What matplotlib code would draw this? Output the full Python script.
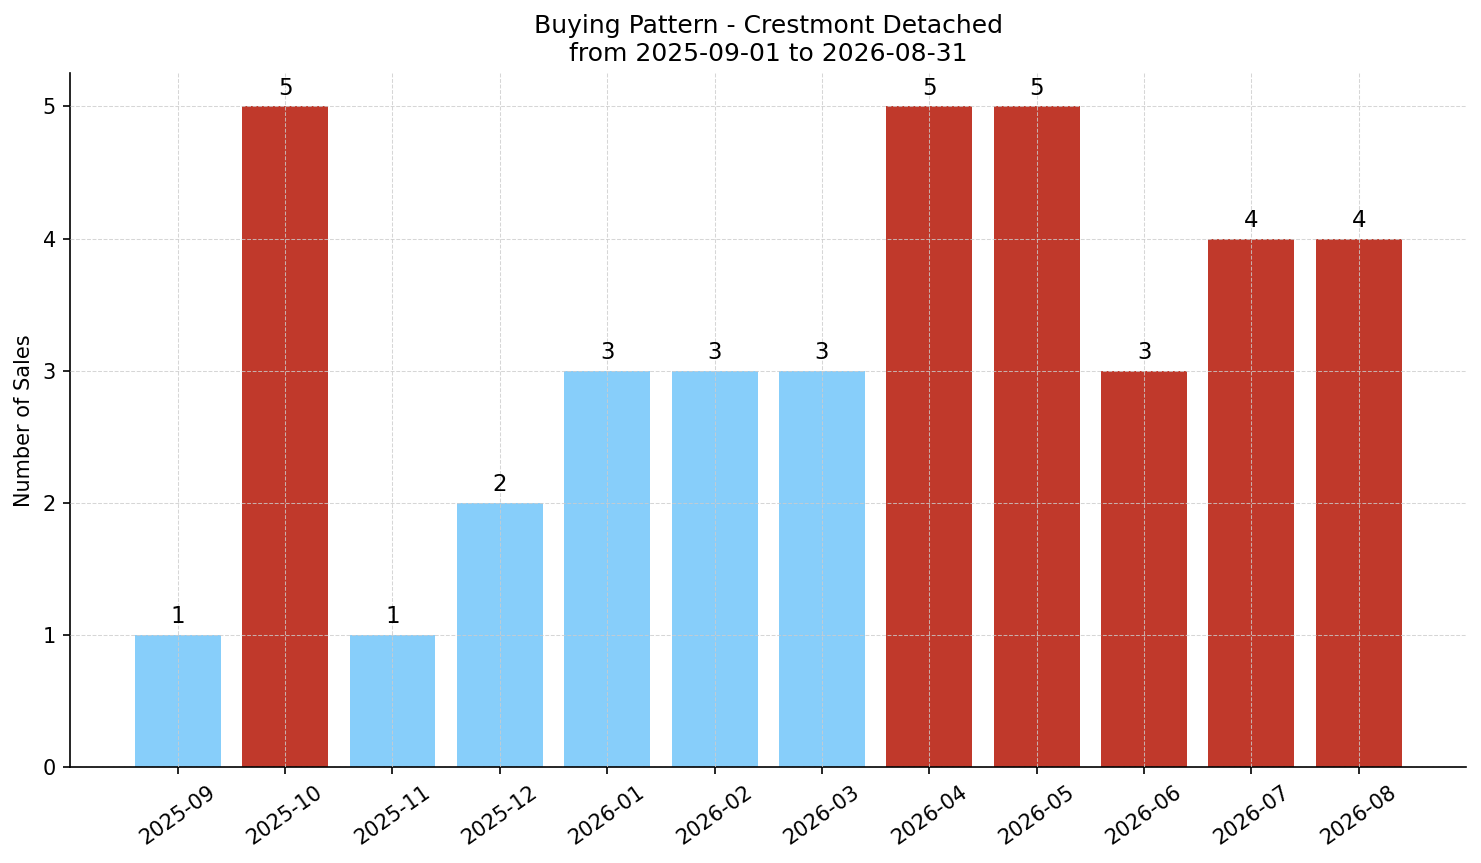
import matplotlib
matplotlib.use("Agg")
import matplotlib.pyplot as plt

months = ["2025-09", "2025-10", "2025-11", "2025-12", "2026-01", "2026-02",
          "2026-03", "2026-04", "2026-05", "2026-06", "2026-07", "2026-08"]
sales = [1, 5, 1, 2, 3, 3, 3, 5, 5, 3, 4, 4]
highlight = [False, True, False, False, False, False, False, True, True, True, True, True]

blue = "#87CEFA"
red = "#C0392B"
colors = [red if h else blue for h in highlight]

DPI = 150
fig, ax = plt.subplots(figsize=(1481 / DPI, 863 / DPI), dpi=DPI)
x = list(range(len(months)))
ax.bar(x, sales, color=colors, width=0.8)
for xi, v in zip(x, sales):
    ax.text(xi, v + 0.05, str(v), ha="center", va="bottom", fontsize=11)

ax.set_xticks(x)
ax.set_xticklabels(months, rotation=35, fontsize=10)
ax.tick_params(axis="y", labelsize=10)
ax.set_xlim(-1, 12)
ax.set_ylim(0, 5.25)
ax.set_ylabel("Number of Sales", fontsize=10)
ax.set_title("Buying Pattern - Crestmont Detached\nfrom 2025-09-01 to 2026-08-31", fontsize=12)
ax.grid(True, linestyle="--", linewidth=0.5, color="#cccccc", alpha=0.8)
ax.set_axisbelow(False)
ax.spines["top"].set_visible(False)
ax.spines["right"].set_visible(False)

fig.subplots_adjust(left=0.0475, right=0.99, top=0.915, bottom=0.111)
fig.savefig("out.png", dpi=DPI)
